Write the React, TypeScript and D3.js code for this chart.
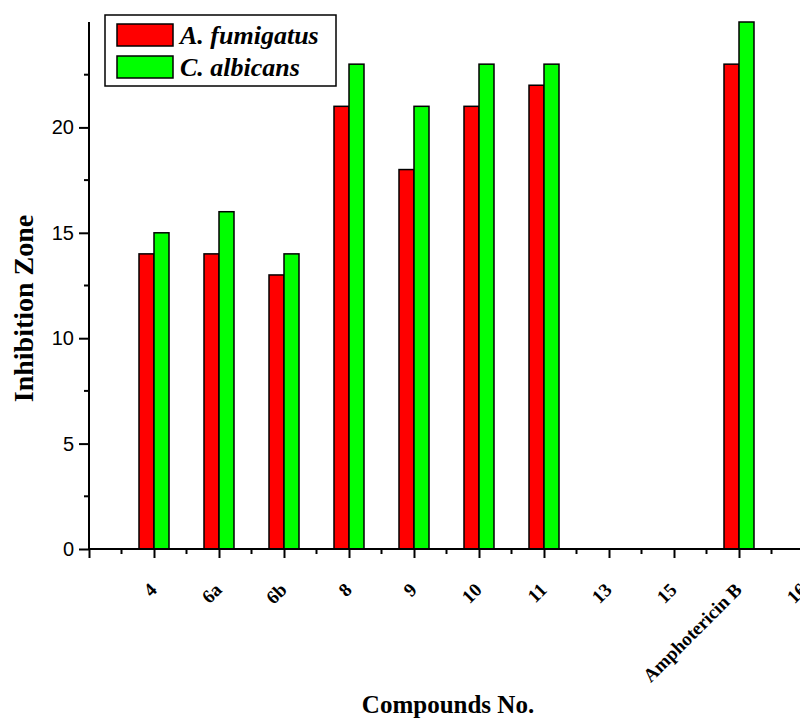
import React, {useEffect, useRef} from 'react'
import * as d3 from 'd3'

// categories on the x axis (last one is cut off at the right edge)
const compounds = ['4', '6a', '6b', '8', '9', '10', '11', '13', '15', 'Amphotericin B', '16'];
// inhibition zone values per compound
const fumigatus = [14, 14, 13, 21, 18, 21, 22, 0, 0, 23, 0];
const albicans = [15, 16, 14, 23, 21, 23, 23, 0, 0, 25, 0];
const seriesNames = ['A. fumigatus', 'C. albicans'];
const seriesColors = ['#ff0000', '#00ff00'];
const yTicks = [0, 5, 10, 15, 20];

const App = () => {
  const chartRef = useRef(null);

  useEffect(() => {
    const width = 800;
    const height = 725;
    const margin = {top: 22, left: 89, bottom: 176};
    const unit = 65;

    const svg = d3.select(chartRef.current)
      .append('svg')
      .attr('width', width)
      .attr('height', height)
      .style('position', 'absolute')
      .style('left', 0)
      .style('top', 0)
      .style('background', '#fff');

    const x = d3.scaleLinear()
      .domain([0, compounds.length])
      .range([margin.left, margin.left + unit * compounds.length]);

    const y = d3.scaleLinear()
      .domain([0, 25])
      .range([height - margin.bottom, margin.top]);

    const barW = 15;
    const data = compounds.map((c, i) => ({name: c, pos: i + 1, vals: [fumigatus[i], albicans[i]]}));

    // bars
    seriesNames.forEach((s, k) => {
      svg.append('g')
        .selectAll('rect')
        .data(data.filter(d => d.vals[k] > 0))
        .enter()
        .append('rect')
        .attr('x', d => x(d.pos) + (k === 0 ? -barW : 0))
        .attr('y', d => y(d.vals[k]))
        .attr('width', barW)
        .attr('height', d => y(0) - y(d.vals[k]))
        .attr('fill', seriesColors[k])
        .attr('stroke', '#000')
        .attr('stroke-width', 1.5);
    });

    // x axis
    const xAxis = d3.axisBottom(x)
      .tickValues(d3.range(0, compounds.length + 1))
      .tickSize(9)
      .tickFormat(() => '');
    const gx = svg.append('g')
      .attr('transform', 'translate(0,' + y(0) + ')')
      .call(xAxis);
    gx.select('.domain').attr('stroke-width', 2).attr('d', 'M' + margin.left + ',0H' + width);
    gx.selectAll('.tick line').attr('stroke-width', 2);

    gx.selectAll('.minor')
      .data(d3.range(0, compounds.length).map(d => d + 0.5))
      .enter()
      .append('line')
      .attr('x1', d => x(d))
      .attr('x2', d => x(d))
      .attr('y1', 0)
      .attr('y2', 5)
      .attr('stroke', '#000')
      .attr('stroke-width', 2);

    svg.append('g')
      .selectAll('text')
      .data(data)
      .enter()
      .append('text')
      .attr('transform', d => 'translate(' + (x(d.pos) + 4) + ',' + (y(0) + 42) + ') rotate(-45)')
      .attr('text-anchor', 'end')
      .attr('font-family', '"Liberation Serif", serif')
      .attr('font-weight', 'bold')
      .attr('font-size', 19)
      .text(d => d.name);

    // y axis
    const yAxis = d3.axisLeft(y)
      .tickValues(yTicks)
      .tickSize(10)
      .tickPadding(5);
    const gy = svg.append('g')
      .attr('transform', 'translate(' + margin.left + ',0)')
      .call(yAxis);
    gy.select('.domain').attr('stroke-width', 2).attr('d', 'M0,' + y(0) + 'V' + margin.top);
    gy.selectAll('.tick line').attr('stroke-width', 2);
    gy.selectAll('.tick text')
      .attr('font-family', '"Liberation Sans", Arial, sans-serif')
      .attr('font-size', 20);

    gy.selectAll('.minor')
      .data([2.5, 7.5, 12.5, 17.5, 22.5])
      .enter()
      .append('line')
      .attr('x1', 0)
      .attr('x2', -5)
      .attr('y1', d => y(d))
      .attr('y2', d => y(d))
      .attr('stroke', '#000')
      .attr('stroke-width', 2);

    // axis titles
    svg.append('text')
      .attr('transform', 'translate(33,' + ((y(0) + margin.top) / 2 + 23) + ') rotate(-90)')
      .attr('text-anchor', 'middle')
      .attr('font-family', '"Liberation Serif", serif')
      .attr('font-weight', 'bold')
      .attr('font-size', 28)
      .text('Inhibition Zone');

    svg.append('text')
      .attr('x', 448)
      .attr('y', 713)
      .attr('text-anchor', 'middle')
      .attr('font-family', '"Liberation Serif", serif')
      .attr('font-weight', 'bold')
      .attr('font-size', 25)
      .text('Compounds No.');

    // legend
    const legend = svg.append('g').attr('transform', 'translate(105,15)');
    legend.append('rect')
      .attr('width', 231)
      .attr('height', 71)
      .attr('fill', '#fff')
      .attr('stroke', '#000')
      .attr('stroke-width', 1.5);
    seriesNames.forEach((s, k) => {
      legend.append('rect')
        .attr('x', 12)
        .attr('y', 9 + k * 32)
        .attr('width', 56)
        .attr('height', 22)
        .attr('fill', seriesColors[k])
        .attr('stroke', '#000')
        .attr('stroke-width', 1.5);
      legend.append('text')
        .attr('x', 75)
        .attr('y', 29 + k * 32)
        .attr('font-family', '"Liberation Serif", serif')
        .attr('font-weight', 'bold')
        .attr('font-style', 'italic')
        .attr('font-size', 26)
        .text(s);
    });

    return () => {
      d3.select(chartRef.current).select('svg').remove();
    }
  }, [])

  return (
    <div ref={chartRef}></div>
  )
}

export default App
